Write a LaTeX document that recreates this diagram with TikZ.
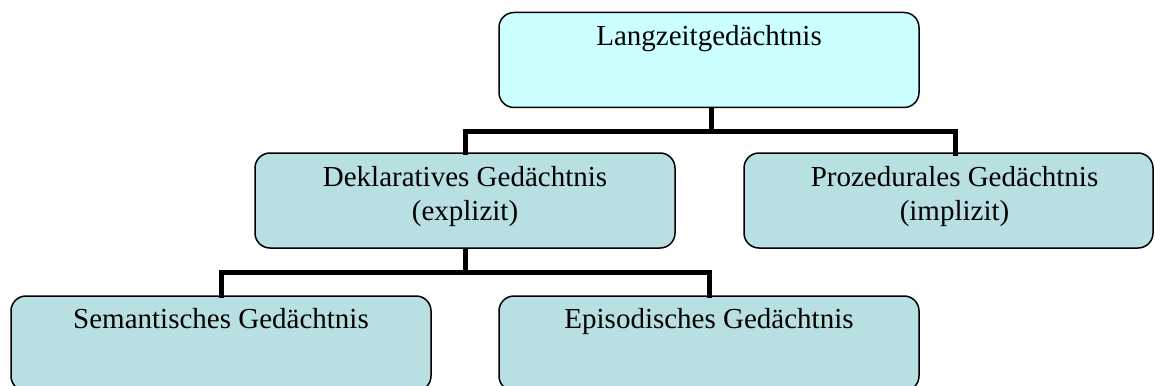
\documentclass[tikz,border=0pt]{standalone}
\usepackage{fontspec}
\setmainfont{Liberation Serif}
\usetikzlibrary{calc}
\definecolor{topfill}{HTML}{CCFFFF}
\definecolor{boxfill}{HTML}{B8DFE2}
\begin{document}
\begin{tikzpicture}[x=1pt,y=-1pt,
  box/.style={draw=black, line width=1.5pt, rounded corners=15pt,
    fill=boxfill, inner sep=0pt, minimum height=95pt},
  lbl/.style={anchor=north, inner sep=0pt, align=center,
    font=\fontsize{29}{33.5}\selectfont},
  link/.style={line width=5pt, line cap=rect}]
\useasboundingbox (0,0) rectangle (1155,385);
\clip (0,0) rectangle (1155,385);
% boxes
\node[box, fill=topfill, minimum width=420pt] (lzg) at (709,60) {};
\node[box, minimum width=420pt] (dek) at (465,200.5) {};
\node[box, minimum width=409pt] (pro) at (948.5,200.5) {};
\node[box, minimum width=420pt] (sem) at (221,343.5) {};
\node[box, minimum width=420pt] (epi) at (709,343.5) {};
% texts
\node[lbl] (tlzg) at ($(lzg.north)+(0,13)$) {Langzeitgedächtnis};
\node[lbl] (tdek) at ($(dek.north)+(0,14)$) {Deklaratives Gedächtnis\\(explizit)};
\node[lbl] (tpro) at ($(pro.north)+(6,14)$) {Prozedurales Gedächtnis\\(implizit)};
\node[lbl] (tsem) at ($(sem.north)+(0,13)$) {Semantisches Gedächtnis};
\node[lbl] (tepi) at ($(epi.north)+(0,13)$) {Episodisches Gedächtnis};
% connectors
\coordinate (bar1) at (711,131);
\coordinate (pdrop) at (955,153);
\coordinate (bar2) at (465,272);
\draw[link, line cap=butt] ($(lzg.south)+(2,0)$) -- (bar1);
\draw[link] (dek.north) |- (bar1) -| (pdrop);
\draw[link, line cap=butt] (dek.south) -- (bar2);
\draw[link] (sem.north) |- (bar2) -| (epi.north);
\end{tikzpicture}
\end{document}
